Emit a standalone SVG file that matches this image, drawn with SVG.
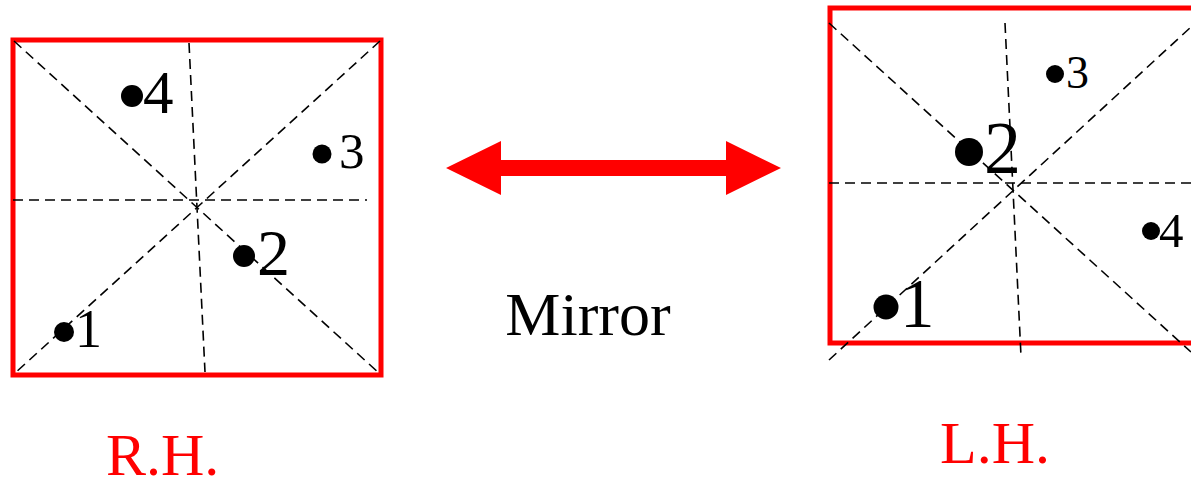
<svg xmlns="http://www.w3.org/2000/svg" width="1191" height="483" viewBox="0 0 1191 483">
<style>
.frame{fill:none;stroke:#ff0000;stroke-width:5}
.dash{stroke:#000;stroke-width:1.6;stroke-dasharray:10 6;fill:none}
.dot{fill:#000}
.lbl{font-family:"Liberation Serif","Times New Roman",serif;fill:#000}
.red{font-family:"Liberation Serif","Times New Roman",serif;fill:#ff0000;font-size:60px}
</style>
<rect width="1191" height="483" fill="#fff"/>
<g id="rh-box">
<rect class="frame" x="13" y="40" width="368" height="335"/>
<g class="dash-lines">
<line class="dash" x1="14" y1="41" x2="380" y2="374"/>
<line class="dash" x1="380" y1="41" x2="14" y2="374"/>
<line class="dash" x1="13" y1="200" x2="367" y2="200"/>
<line class="dash" x1="189" y1="43" x2="205" y2="372"/>
</g>
<circle class="dot" cx="132" cy="96" r="11"/>
<text class="lbl" x="143" y="113" font-size="61">4</text>
<circle class="dot" cx="322" cy="154" r="9.5"/>
<text class="lbl" x="339" y="168" font-size="51">3</text>
<circle class="dot" cx="244" cy="256" r="11"/>
<text class="lbl" x="257" y="275" font-size="66">2</text>
<circle class="dot" cx="64" cy="332" r="10"/>
<text class="lbl" x="75" y="347" font-size="54">1</text>
</g>
<g id="lh-box">
<rect class="frame" x="830" y="8" width="400" height="335"/>
<g class="dash-lines">
<line class="dash" x1="829" y1="23" x2="1191" y2="352"/>
<line class="dash" x1="829" y1="360" x2="1191" y2="27"/>
<line class="dash" x1="829" y1="183" x2="1191" y2="183"/>
<line class="dash" x1="1005" y1="23" x2="1021" y2="356"/>
</g>
<circle class="dot" cx="1055" cy="74" r="9"/>
<text class="lbl" x="1066" y="88" font-size="46">3</text>
<circle class="dot" cx="969" cy="152" r="14"/>
<text class="lbl" x="984" y="173" font-size="74">2</text>
<circle class="dot" cx="1151" cy="231" r="9"/>
<text class="lbl" x="1159" y="247" font-size="49">4</text>
<circle class="dot" cx="886" cy="307" r="12.5"/>
<text class="lbl" x="900" y="327" font-size="69">1</text>
</g>
<g id="connectors">
<polygon fill="#ff0000" points="446,168 501,141 501,160 726,160 726,141 781,168 726,195 726,176 501,176 501,195"/>
</g>
<g id="labels">
<text class="lbl" x="588" y="335" font-size="62" text-anchor="middle">Mirror</text>
<text class="red" x="106" y="475">R.H.</text>
<text class="red" x="940" y="463">L.H.</text>
</g>
</svg>
